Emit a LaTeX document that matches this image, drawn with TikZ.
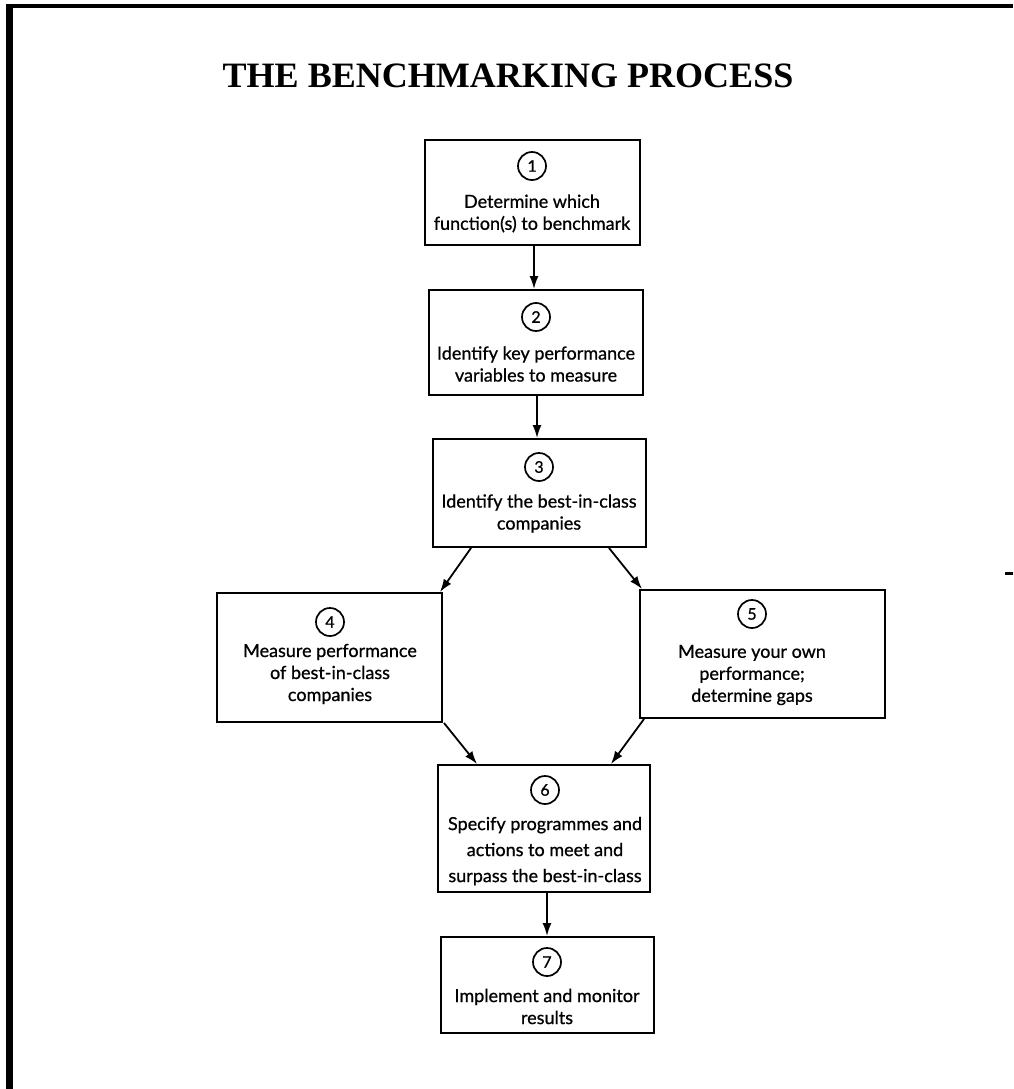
\documentclass[tikz,border=0pt]{standalone}
\usepackage{fontspec}
\setmainfont{Liberation Serif}
\newfontfamily\boxfont{Lato}[FakeBold=0.8]
\usetikzlibrary{arrows.meta}
\begin{document}
\begin{tikzpicture}[x=1pt,y=-1pt,
  stepbox/.style={draw, line width=1.9pt, rectangle, inner sep=0pt},
  num/.style={draw, circle, line width=1.7pt, minimum size=28pt, inner sep=0pt,
    font=\boxfont\fontsize{16}{16}\selectfont},
  txt/.style={align=center, inner sep=0pt,
    font=\boxfont\fontsize{18}{22}\selectfont},
  conn/.style={-{Latex[length=13pt,width=9pt]}, line width=1.8pt}]
\useasboundingbox (0,0) rectangle (1013,1089);

% outer frame (left and top edges) and a stray mark on the right
\draw[line width=7pt] (9.5,4) -- (9.5,1089);
\draw[line width=4pt] (6,6) -- (1013,6);
\draw[line width=3pt] (1005,573) -- (1013,573);

% title
\node (title) at (508,76) {\fontsize{34}{34}\selectfont\bfseries\scalebox{1.06}[1.05]{THE BENCHMARKING PROCESS}};

% process boxes
\node[stepbox, minimum width=215pt, minimum height=105pt] (b1) at (532.5,192.5) {};
\node[stepbox, minimum width=214pt, minimum height=105pt] (b2) at (536,342.5) {};
\node[stepbox, minimum width=213pt, minimum height=108pt] (b3) at (539.5,493) {};
\node[stepbox, minimum width=225pt, minimum height=129pt] (b4) at (329.5,657.5) {};
\node[stepbox, minimum width=245pt, minimum height=128pt] (b5) at (762.5,654) {};
\node[stepbox, minimum width=212pt, minimum height=127pt] (b6) at (544,828.5) {};
\node[stepbox, minimum width=213pt, minimum height=96pt] (b7) at (547.5,985) {};

% step numbers
\node[num] (n1) at (532,166) {1};
\node[num] (n2) at (536,317) {2};
\node[num] (n3) at (539,467) {3};
\node[num] (n4) at (330,622) {4};
\node[num] (n5) at (752,614) {5};
\node[num] (n6) at (545,790) {6};
\node[num] (n7) at (547,962) {7};

% step texts
\node[txt] (t1) at (532,213.5) {Determine which\\function(s) to benchmark};
\node[txt] (t2) at (536,364) {Identify key performance\\variables to measure};
\node[txt] (t3) at (539,513.5) {Identify the best-in-class\\companies};
\node[txt] (t4) at (330,674) {Measure performance\\of best-in-class\\companies};
\node[txt] (t5) at (752,675) {Measure your own\\performance;\\determine gaps};
\node[txt, font=\boxfont\fontsize{18}{26}\selectfont] (t6) at (545,851) {Specify programmes and\\actions to meet and\\surpass the best-in-class};
\node[txt] (t7) at (547,1006.5) {Implement and monitor\\results};

% connectors
\draw[conn] ([xshift=1.5pt]b1.south) -- ([xshift=-2pt]b2.north);
\draw[conn] ([xshift=1pt]b2.south) -- ([xshift=-2.5pt]b3.north);
\draw[conn] ([xshift=39pt]b3.south west) -- ([xshift=-3pt]b4.north east);
\draw[conn] ([xshift=-38pt]b3.south east) -- ([xshift=3pt]b5.north west);
\draw[conn] ([xshift=1pt]b4.south east) -- ([xshift=40pt]b6.north west);
\draw[conn] ([xshift=5pt]b5.south west) -- ([xshift=-40pt]b6.north east);
\draw[conn] ([xshift=3pt]b6.south) -- ([xshift=-0.5pt]b7.north);
\end{tikzpicture}
\end{document}
